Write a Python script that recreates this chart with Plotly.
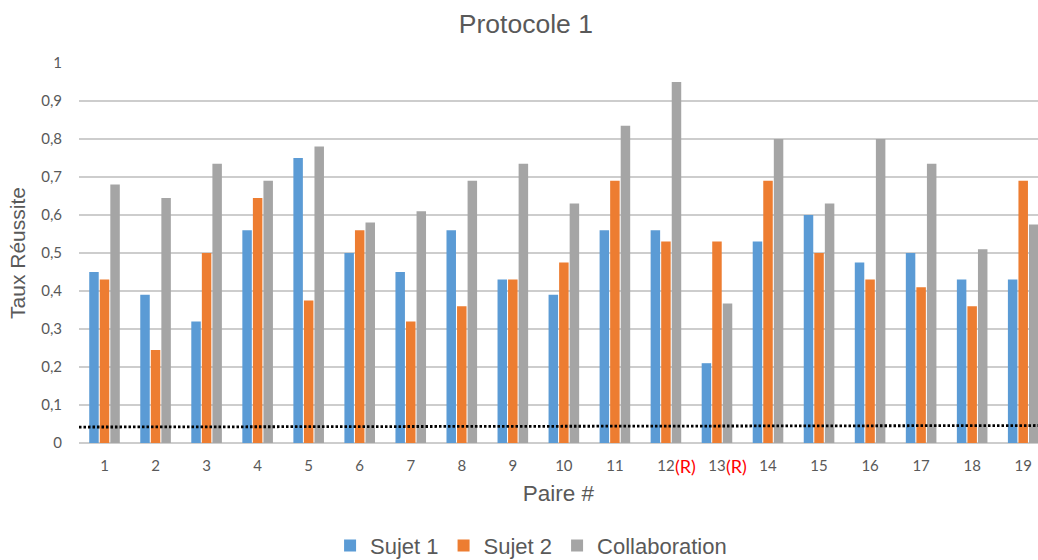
import plotly.graph_objects as go

pairs = [str(i) for i in range(1, 20)]
sujet1 = [0.45, 0.39, 0.32, 0.56, 0.75, 0.50, 0.45, 0.56, 0.43, 0.39,
          0.56, 0.56, 0.21, 0.53, 0.60, 0.475, 0.50, 0.43, 0.43]
sujet2 = [0.43, 0.245, 0.50, 0.645, 0.375, 0.56, 0.32, 0.36, 0.43, 0.475,
          0.69, 0.53, 0.53, 0.69, 0.50, 0.43, 0.41, 0.36, 0.69]
collab = [0.68, 0.645, 0.735, 0.69, 0.78, 0.58, 0.61, 0.69, 0.735, 0.63,
          0.835, 0.95, 0.367, 0.80, 0.63, 0.80, 0.735, 0.51, 0.575]
chance_x = [0, 1]
chance_y = [0.042, 0.046]
flagged_pairs = ["12", "13"]
flag_text = "(R)"

grey_txt = "#595959"
fig = go.Figure()
for name, vals, col in [("Sujet 1", sujet1, "#5B9BD5"),
                        ("Sujet 2", sujet2, "#ED7D31"),
                        ("Collaboration", collab, "#A5A5A5")]:
    fig.add_trace(go.Bar(x=pairs, y=vals, name=name, marker_color=col,
                         marker_line_width=0))

fig.add_trace(go.Scatter(x=chance_x, y=chance_y, xaxis="x2", mode="lines",
                         line=dict(color="black", width=2.8, dash="2.5px,2px"),
                         showlegend=False, hoverinfo="skip"))

for p in flagged_pairs:
    fig.add_annotation(x=pairs.index(p), xref="x", y=-0.0605, yref="paper", text=flag_text,
                       showarrow=False, xanchor="left", yanchor="middle",
                       xshift=7, font=dict(family="Lato", size=18, color="#FF0000"))

fig.update_layout(
    width=1038, height=560,
    margin=dict(l=79, r=0, t=63, b=117, autoexpand=False),
    paper_bgcolor="white", plot_bgcolor="white",
    separators=", ",
    barmode="group", bargap=0.38, bargroupgap=0.1,
    title=dict(text="Protocole 1", x=0.466, xref="paper", y=0.957, yref="container",
               xanchor="center", yanchor="middle", automargin=False,
               font=dict(family="Liberation Sans", size=26.5, color=grey_txt)),
    xaxis=dict(type="category", range=[-0.5, 18.29], showgrid=False, automargin=False,
               tickfont=dict(family="Lato", size=15, color=grey_txt),
               ticklabelstandoff=12, showline=False, ticks="",
               title=dict(text="Paire #", standoff=12,
                          font=dict(family="Liberation Sans", size=22.5, color=grey_txt))),
    xaxis2=dict(overlaying="x", range=[0, 1], visible=False, fixedrange=True),
    yaxis=dict(range=[0, 1], dtick=0.1, showgrid=True, gridcolor="#CDCDCD", gridwidth=1.5,
               zeroline=True, zerolinecolor="#CDCDCD", zerolinewidth=1.5, automargin=False,
               tickfont=dict(family="Lato", size=15, color=grey_txt),
               ticklabelstandoff=16, ticks="",
               title=dict(text="Taux Réussite", standoff=9,
                          font=dict(family="Liberation Sans", size=21, color=grey_txt))),
    legend=dict(orientation="h", x=0.4714, xanchor="center", y=-0.27, yanchor="middle",
                font=dict(family="Liberation Sans", size=22, color=grey_txt),
                itemwidth=30),
)

fig.write_html("out.html", config={"displayModeBar": False},
               post_script="document.body.style.margin='0px';")
